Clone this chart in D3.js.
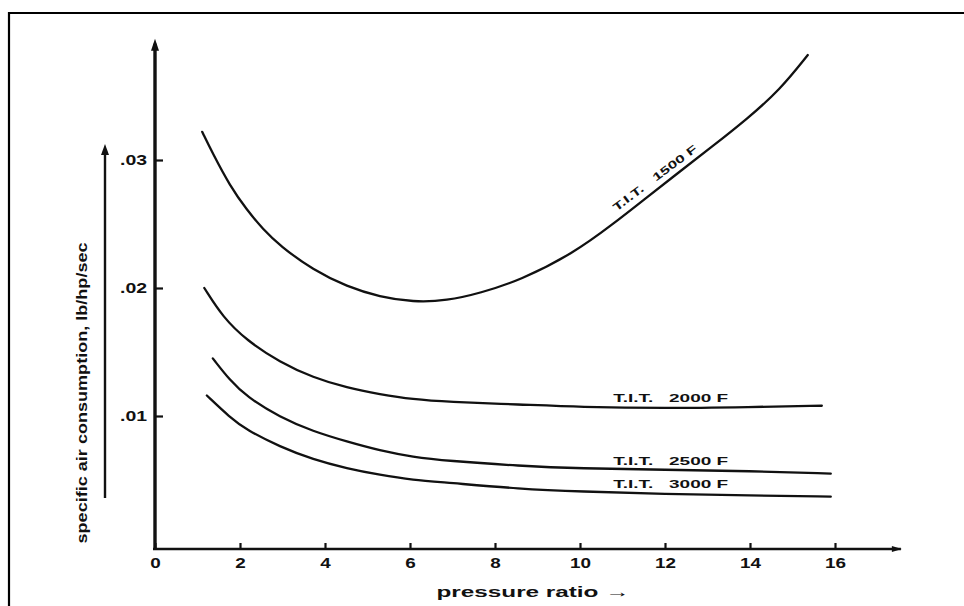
<!DOCTYPE html>
<html>
<head>
<meta charset="utf-8">
<script src="https://cdn.jsdelivr.net/npm/d3@7"></script>
<style>
  html, body { margin: 0; padding: 0; background: #fff; }
  svg { display: block; }
  text { font-family: "Liberation Sans", Arial, Helvetica, sans-serif; fill: #111; }
</style>
</head>
<body>
<svg id="chart" width="964" height="606"></svg>
<script>
// ---------------- data ----------------
const xTickValues = [0, 2, 4, 6, 8, 10, 12, 14, 16];
const xTickLabels = ["0", "2", "4", "6", "8", "10", "12", "14", "16"];
const yTickValues = [0.01, 0.02, 0.03];
const yTickLabels = [".01", ".02", ".03"];

const tit1500X = [1.11, 1.36, 1.76, 2.16, 2.54, 2.94, 3.72, 4.52, 5.29, 6.07, 6.87, 7.65, 8.59, 9.84, 10.78, 11.58, 12.35, 13.13, 13.93, 14.71, 15.36];
const tit1500Y = [0.0322, 0.0305, 0.0280, 0.0261, 0.0246, 0.0233, 0.0214, 0.0201, 0.0193, 0.0189, 0.0190, 0.0196, 0.0206, 0.0227, 0.0250, 0.0271, 0.0291, 0.0311, 0.0332, 0.0355, 0.0382];

const tit2000X = [1.16, 1.60, 2.16, 2.94, 3.72, 4.52, 5.29, 6.07, 6.87, 8.59, 10.0, 12.0, 14.0, 15.69];
const tit2000Y = [0.0200, 0.0177, 0.0159, 0.0142, 0.0130, 0.0122, 0.0117, 0.0113, 0.0111, 0.0109, 0.0107, 0.0106, 0.0107, 0.0108];

const tit2500X = [1.36, 1.76, 2.16, 2.94, 3.72, 4.52, 5.29, 6.07, 6.87, 8.59, 10.0, 12.0, 14.0, 15.90];
const tit2500Y = [0.0145, 0.0128, 0.0115, 0.0099, 0.0088, 0.0080, 0.0073, 0.0068, 0.0065, 0.0061, 0.0059, 0.0058, 0.0057, 0.0055];

const tit3000X = [1.22, 1.76, 2.16, 2.94, 3.72, 4.52, 5.29, 6.07, 6.87, 8.59, 10.0, 12.0, 14.0, 15.90];
const tit3000Y = [0.0116, 0.0099, 0.0089, 0.0076, 0.0066, 0.0059, 0.0054, 0.0050, 0.0048, 0.0043, 0.0041, 0.0039, 0.0038, 0.0037];

const seriesNames = ["T.I.T.   1500 F", "T.I.T.   2000 F", "T.I.T.   2500 F", "T.I.T.   3000 F"];

const xAxisTitle = "pressure ratio \u2192";
const yAxisTitle = "specific air consumption, lb/hp/sec";

// ---------------- layout ----------------
const svg = d3.select("#chart");
const x = d3.scaleLinear().domain([0, 16]).range([155, 835]);
const y = d3.scaleLinear().domain([0, 0.03]).range([544, 160]);
const axisY = y(0) + 5;      // baseline of the printed x axis
const xAxisEnd = 17.55;      // x axis runs a bit beyond 16
const yAxisEnd = 0.0394;     // y axis runs up beyond .03

// width of the wide, printed digits
const labelWidth = s => s.split("").reduce((w, c) => w + (c === "." ? 6 : 10.5), 0);

// outer frame (left & top border visible)
svg.append("path")
  .attr("d", "M9,606 L9,13 L964,13")
  .attr("fill", "none").attr("stroke", "#000").attr("stroke-width", 2.2);

// ---------------- axes ----------------
const gx = svg.append("g").attr("transform", `translate(0,${axisY})`)
  .call(d3.axisBottom(x).tickValues(xTickValues)
    .tickFormat((d, i) => xTickLabels[i])
    .tickSizeInner(-6).tickSizeOuter(0).tickPadding(9));
gx.select(".domain").remove();
gx.selectAll(".tick line").attr("stroke", "#111").attr("stroke-width", 2.2);
gx.selectAll(".tick text").attr("font-size", 14).attr("font-weight", "bold").attr("fill", "#222")
  .attr("textLength", (d, i) => labelWidth(xTickLabels[i])).attr("lengthAdjust", "spacingAndGlyphs");

const gy = svg.append("g").attr("transform", `translate(${x(0)},0)`)
  .call(d3.axisLeft(y).tickValues(yTickValues)
    .tickFormat((d, i) => yTickLabels[i])
    .tickSizeInner(-8).tickSizeOuter(0).tickPadding(8));
gy.select(".domain").remove();
gy.selectAll(".tick line").attr("stroke", "#111").attr("stroke-width", 2.2);
gy.selectAll(".tick text").attr("font-size", 14).attr("font-weight", "bold").attr("fill", "#222")
  .attr("textLength", (d, i) => labelWidth(yTickLabels[i])).attr("lengthAdjust", "spacingAndGlyphs");

// axis lines with arrowheads
svg.append("line")
  .attr("x1", x(0) - 2).attr("y1", axisY).attr("x2", x(xAxisEnd)).attr("y2", axisY)
  .attr("stroke", "#111").attr("stroke-width", 2.6);
svg.append("path")
  .attr("d", `M${x(xAxisEnd) + 1},${axisY} L${x(xAxisEnd) - 9},${axisY - 3} L${x(xAxisEnd) - 9},${axisY + 3} Z`)
  .attr("fill", "#111");

svg.append("line")
  .attr("x1", x(0)).attr("y1", axisY + 1).attr("x2", x(0)).attr("y2", y(yAxisEnd) + 4)
  .attr("stroke", "#111").attr("stroke-width", 3.4);
svg.append("path")
  .attr("d", `M${x(0)},${y(yAxisEnd) - 1} L${x(0) - 4},${y(yAxisEnd) + 11} L${x(0) + 4},${y(yAxisEnd) + 11} Z`)
  .attr("fill", "#111");

// axis titles
const yTitleX = 82, yTitleCY = (y(0.0292) + y(-0.0056)) / 2;
svg.append("text")
  .attr("transform", `translate(${yTitleX},${yTitleCY}) rotate(-90)`)
  .attr("text-anchor", "middle").attr("dy", "0.35em")
  .attr("font-size", 15.5).attr("font-weight", "bold")
  .attr("textLength", 301).attr("lengthAdjust", "spacingAndGlyphs")
  .text(yAxisTitle);
// arrow beside y title
svg.append("line")
  .attr("x1", 105).attr("y1", 498).attr("x2", 105).attr("y2", 152)
  .attr("stroke", "#111").attr("stroke-width", 2.4);
svg.append("path")
  .attr("d", "M105,144 L101,155 L109,155 Z").attr("fill", "#111");

svg.append("text")
  .attr("x", 533).attr("y", 597)
  .attr("text-anchor", "middle")
  .attr("font-size", 15).attr("font-weight", "bold")
  .attr("textLength", 193).attr("lengthAdjust", "spacingAndGlyphs")
  .text(xAxisTitle);

// ---------------- curves ----------------
const line = d3.line()
  .x(d => x(d[0])).y(d => y(d[1]))
  .curve(d3.curveBasis);

const series = [
  tit1500X.map((v, i) => [v, tit1500Y[i]]),
  tit2000X.map((v, i) => [v, tit2000Y[i]]),
  tit2500X.map((v, i) => [v, tit2500Y[i]]),
  tit3000X.map((v, i) => [v, tit3000Y[i]])
];

svg.append("g").selectAll("path").data(series).join("path")
  .attr("d", line)
  .attr("fill", "none").attr("stroke", "#111")
  .attr("stroke-width", 2.3).attr("stroke-linecap", "round");

// ---------------- curve labels ----------------
// 1500 F: written along the rising branch
svg.append("text")
  .attr("transform", `translate(${x(11.76)},${y(0.0286)}) rotate(-37)`)
  .attr("text-anchor", "middle").attr("dy", "0.35em")
  .attr("font-size", 11).attr("font-weight", "bold")
  .style("white-space", "pre")
  .attr("textLength", 102).attr("lengthAdjust", "spacingAndGlyphs")
  .text(seriesNames[0]);

const flatLabels = [
  { name: seriesNames[1], xv: 10.78, yv: 0.0111 },
  { name: seriesNames[2], xv: 10.78, yv: 0.0062 },
  { name: seriesNames[3], xv: 10.78, yv: 0.0044 }
];
svg.append("g").selectAll("text").data(flatLabels).join("text")
  .attr("x", d => x(d.xv)).attr("y", d => y(d.yv))
  .attr("font-size", 11).attr("font-weight", "bold")
  .style("white-space", "pre")
  .attr("textLength", 115).attr("lengthAdjust", "spacingAndGlyphs")
  .text(d => d.name);
</script>
</body>
</html>
